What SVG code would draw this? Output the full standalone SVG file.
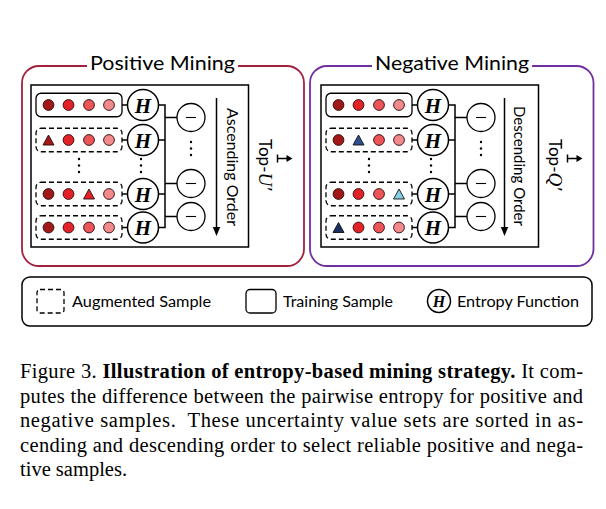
<svg xmlns="http://www.w3.org/2000/svg" width="606" height="509" viewBox="0 0 606 509">
<style>
.lbl{font-family:Lato,"Open Sans","Liberation Sans",sans-serif;fill:#000}
.cap{font-family:"Liberation Serif","Times New Roman",serif;font-size:20.5px;fill:#000}
.hl{font-family:"Liberation Serif","Times New Roman",serif;font-weight:bold;font-style:italic;font-size:21px;text-anchor:middle}
.frame{fill:none;stroke:#000;stroke-width:1.5}
.smp{fill:#fff;stroke:#000;stroke-width:1.3}
.aug{fill:#fff;stroke:#000;stroke-width:1.3;stroke-dasharray:5 3}
.hc{fill:#fff;stroke:#000;stroke-width:1.5}
.mc{fill:#fff;stroke:#000;stroke-width:1.3}
.ln{stroke:#000;stroke-width:1.5;fill:none}
.thin{stroke:#000;stroke-width:1.1;fill:none}
.c1{fill:#a01818;stroke:#2a0a0a;stroke-width:0.9}
.c2{fill:#e32228;stroke:#2a0a0a;stroke-width:0.9}
.c3{fill:#ec5458;stroke:#2a0a0a;stroke-width:0.9}
.c4{fill:#f28a8c;stroke:#2a0a0a;stroke-width:0.9}
.tb1{fill:#2e4e8e;stroke:#111;stroke-width:0.9}
.tb2{fill:#86cde6;stroke:#111;stroke-width:0.9}
.tb3{fill:#1b2f63;stroke:#111;stroke-width:0.9}
.dot{fill:#000}
</style>
<defs>
<g id="dots3"><circle cx="0" cy="0" r="1.2"/><circle cx="0" cy="6.5" r="1.2"/><circle cx="0" cy="13" r="1.2"/></g>
<polygon id="tri" points="0,-5.5 5.5,4.5 -5.5,4.5"/>
</defs>
<rect width="606" height="509" fill="#fff"/>

<!-- Positive panel -->
<g id="positive-panel">
<rect x="22" y="66" width="282" height="200" rx="17" fill="none" stroke="#a3213d" stroke-width="1.8"/>
<rect x="87" y="56" width="151" height="16" fill="#fff"/>
<text class="lbl" x="90" y="70" font-size="19" textLength="145" lengthAdjust="spacingAndGlyphs">Positive Mining</text>
<rect class="frame" x="31" y="85" width="217.5" height="162"/>
</g>
<g id="pos-sample-1"><rect class="smp" x="36" y="93.25" width="86" height="23.5" rx="5"/>
<circle class="c1" cx="48.5" cy="105" r="5.4"/><circle class="c2" cx="68.5" cy="105" r="5.4"/><circle class="c3" cx="89" cy="105" r="5.4"/><circle class="c4" cx="109" cy="105" r="5.4"/></g>
<g id="pos-sample-2"><rect class="aug" x="36" y="128.25" width="86" height="23.5" rx="5"/>
<use href="#tri" x="48.5" y="140.5" class="c1"/><circle class="c2" cx="68.5" cy="140" r="5.4"/><circle class="c3" cx="89" cy="140" r="5.4"/><circle class="c4" cx="109" cy="140" r="5.4"/></g>
<g id="pos-sample-3"><rect class="aug" x="36" y="182.25" width="86" height="23.5" rx="5"/>
<circle class="c1" cx="48.5" cy="194" r="5.4"/><circle class="c2" cx="68.5" cy="194" r="5.4"/><use href="#tri" x="89" y="194.5" class="c2"/><circle class="c4" cx="109" cy="194" r="5.4"/></g>
<g id="pos-sample-4"><rect class="aug" x="36" y="215.75" width="86" height="23.5" rx="5"/>
<circle class="c1" cx="48.5" cy="227.5" r="5.4"/><circle class="c2" cx="68.5" cy="227.5" r="5.4"/><circle class="c3" cx="89" cy="227.5" r="5.4"/><circle class="c4" cx="109" cy="227.5" r="5.4"/></g>
<g id="pos-h-1"><circle class="hc" cx="143" cy="105" r="15.5"/><text class="hl" x="143" y="112.5">H</text></g>
<g id="pos-h-2"><circle class="hc" cx="143" cy="140" r="15.5"/><text class="hl" x="143" y="147.5">H</text></g>
<g id="pos-h-3"><circle class="hc" cx="143" cy="194" r="15.5"/><text class="hl" x="143" y="201.5">H</text></g>
<g id="pos-h-4"><circle class="hc" cx="143" cy="227.5" r="15.5"/><text class="hl" x="143" y="235">H</text></g>
<g id="pos-m-1"><circle class="mc" cx="191" cy="117.5" r="14"/><line class="thin" x1="186" y1="117.5" x2="196" y2="117.5"/></g>
<g id="pos-m-2"><circle class="mc" cx="191" cy="183.5" r="14"/><line class="thin" x1="186" y1="183.5" x2="196" y2="183.5"/></g>
<g id="pos-m-3"><circle class="mc" cx="191" cy="216.5" r="14"/><line class="thin" x1="186" y1="216.5" x2="196" y2="216.5"/></g>
<g id="pos-dots" class="dot"><use href="#dots3" x="79" y="159"/><use href="#dots3" x="141" y="159"/><use href="#dots3" x="191" y="142"/></g>
<g id="pos-order-label"><text class="lbl" font-size="14.5" transform="translate(226.5,108) rotate(90)" textLength="118" lengthAdjust="spacingAndGlyphs">Ascending Order</text></g>
<g id="pos-top-label"><text class="lbl" font-size="17" transform="translate(258.5,139) rotate(90)">Top-<tspan font-family="'Liberation Serif',serif" font-style="italic" font-size="19">U′</tspan></text></g>

<!-- Negative panel -->
<g id="negative-panel">
<rect x="310" y="66" width="283.5" height="200" rx="17" fill="none" stroke="#7030a0" stroke-width="1.8"/>
<rect x="372" y="56" width="160" height="16" fill="#fff"/>
<text class="lbl" x="375" y="70" font-size="19" textLength="154" lengthAdjust="spacingAndGlyphs">Negative Mining</text>
<rect class="frame" x="321" y="85" width="217.5" height="162"/>
</g>
<g transform="translate(290,0)">
<g id="neg-sample-1"><rect class="smp" x="36" y="93.25" width="86" height="23.5" rx="5"/>
<circle class="c1" cx="48.5" cy="105" r="5.4"/><circle class="c2" cx="68.5" cy="105" r="5.4"/><circle class="c3" cx="89" cy="105" r="5.4"/><circle class="c4" cx="109" cy="105" r="5.4"/></g>
<g id="neg-sample-2"><rect class="aug" x="36" y="128.25" width="86" height="23.5" rx="5"/>
<circle class="c1" cx="48.5" cy="140" r="5.4"/><use href="#tri" x="68.5" y="140.5" class="tb1"/><circle class="c3" cx="89" cy="140" r="5.4"/><circle class="c4" cx="109" cy="140" r="5.4"/></g>
<g id="neg-sample-3"><rect class="aug" x="36" y="182.25" width="86" height="23.5" rx="5"/>
<circle class="c1" cx="48.5" cy="194" r="5.4"/><circle class="c2" cx="68.5" cy="194" r="5.4"/><circle class="c3" cx="89" cy="194" r="5.4"/><use href="#tri" x="109" y="194.5" class="tb2"/></g>
<g id="neg-sample-4"><rect class="aug" x="36" y="215.75" width="86" height="23.5" rx="5"/>
<use href="#tri" x="48.5" y="228" class="tb3"/><circle class="c2" cx="68.5" cy="227.5" r="5.4"/><circle class="c3" cx="89" cy="227.5" r="5.4"/><circle class="c4" cx="109" cy="227.5" r="5.4"/></g>
<g id="neg-h-1"><circle class="hc" cx="143" cy="105" r="15.5"/><text class="hl" x="143" y="112.5">H</text></g>
<g id="neg-h-2"><circle class="hc" cx="143" cy="140" r="15.5"/><text class="hl" x="143" y="147.5">H</text></g>
<g id="neg-h-3"><circle class="hc" cx="143" cy="194" r="15.5"/><text class="hl" x="143" y="201.5">H</text></g>
<g id="neg-h-4"><circle class="hc" cx="143" cy="227.5" r="15.5"/><text class="hl" x="143" y="235">H</text></g>
<g id="neg-m-1"><circle class="mc" cx="191" cy="117.5" r="14"/><line class="thin" x1="186" y1="117.5" x2="196" y2="117.5"/></g>
<g id="neg-m-2"><circle class="mc" cx="191" cy="183.5" r="14"/><line class="thin" x1="186" y1="183.5" x2="196" y2="183.5"/></g>
<g id="neg-m-3"><circle class="mc" cx="191" cy="216.5" r="14"/><line class="thin" x1="186" y1="216.5" x2="196" y2="216.5"/></g>
<g id="neg-dots" class="dot"><use href="#dots3" x="79" y="159"/><use href="#dots3" x="141" y="159"/><use href="#dots3" x="191" y="142"/></g>
</g>
<g id="neg-order-label"><text class="lbl" font-size="14.5" transform="translate(514,106) rotate(90)" textLength="120" lengthAdjust="spacingAndGlyphs">Descending Order</text></g>
<g id="neg-top-label"><text class="lbl" font-size="17" transform="translate(548.5,139) rotate(90)">Top-<tspan font-family="'Liberation Serif',serif" font-style="italic" font-size="19">Q′</tspan></text></g>

<!-- Connectors -->
<g id="connectors">
<g id="pos-connectors">
<path class="ln" d="M122,105H127.5M122,140H127.5M122,194H127.5M122,227.5H127.5"/>
<path class="ln" d="M158.5,105H165V227.5H158.5M158.5,140H165M158.5,194H165"/>
<path class="ln" d="M165,117.5H177M165,183.5H177M165,216.5H177"/>
<line class="ln" x1="216.5" y1="98" x2="216.5" y2="228"/>
<polygon points="212.8,227 220.2,227 216.5,236" fill="#000"/>
<path class="ln" d="M277.5,154.5V162.5M277.5,158.5H287.5"/>
<polygon points="286.5,155 292.5,158.5 286.5,162" fill="#000"/>
</g>
<g id="neg-connectors">
<g transform="translate(290,0)">
<path class="ln" d="M122,105H127.5M122,140H127.5M122,194H127.5M122,227.5H127.5"/>
<path class="ln" d="M158.5,105H165V227.5H158.5M158.5,140H165M158.5,194H165"/>
<path class="ln" d="M165,117.5H177M165,183.5H177M165,216.5H177"/>
</g>
<line class="ln" x1="504.5" y1="98" x2="504.5" y2="228"/>
<polygon points="500.8,227 508.2,227 504.5,236" fill="#000"/>
<path class="ln" d="M567.5,154.5V162.5M567.5,158.5H577.5"/>
<polygon points="576.5,155 582.5,158.5 576.5,162" fill="#000"/>
</g>
</g>

<!-- Legend -->
<g id="legend">
<rect x="22" y="277" width="570" height="49" rx="8" fill="#fff" stroke="#000" stroke-width="1.5"/>
<rect class="aug" x="37" y="289.5" width="27" height="23.5" rx="3"/>
<text class="lbl" x="72" y="306.5" font-size="15.5" textLength="139" lengthAdjust="spacingAndGlyphs">Augmented Sample</text>
<rect class="smp" x="246" y="289.5" width="30" height="23.5" rx="4"/>
<text class="lbl" x="283" y="306.5" font-size="15.5" textLength="110" lengthAdjust="spacingAndGlyphs">Training Sample</text>
<circle class="hc" cx="439" cy="301" r="11.5"/>
<text class="hl" x="439" y="306.5" style="font-size:16px">H</text>
<text class="lbl" x="457" y="306.5" font-size="15.5" textLength="122" lengthAdjust="spacingAndGlyphs">Entropy Function</text>
</g>

<!-- Caption -->
<g id="caption">
<text class="cap" x="20" y="378" textLength="563" lengthAdjust="spacing">Figure 3. <tspan font-weight="bold">Illustration of entropy-based mining strategy.</tspan> It com-</text>
<text class="cap" x="20" y="402.5" textLength="563" lengthAdjust="spacing">putes the difference between the pairwise entropy for positive and</text>
<text class="cap" x="20" y="427" textLength="563" lengthAdjust="spacing" xml:space="preserve">negative samples.  These uncertainty value sets are sorted in as-</text>
<text class="cap" x="20" y="451.5" textLength="563" lengthAdjust="spacing">cending and descending order to select reliable positive and nega-</text>
<text class="cap" x="20" y="476">tive samples.</text>
</g>
</svg>
